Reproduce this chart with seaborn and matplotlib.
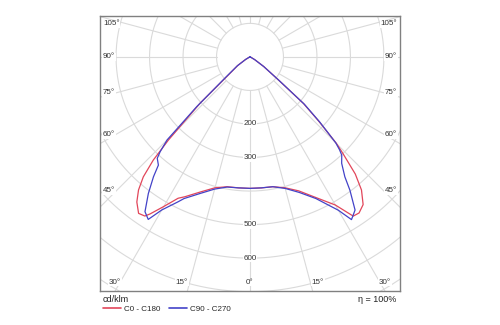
import numpy as np
import pandas as pd
import matplotlib
matplotlib.use("Agg")
import matplotlib.pyplot as plt
import seaborn as sns

# ---- data (cd/klm) ----
gamma_c0 = [0, 5, 10, 15, 20, 25, 30, 33, 35, 37.5, 40, 42, 44, 45, 47, 49, 51, 55, 60, 65, 70, 90]
int_c0 = [392, 392, 393, 404, 425, 462, 510, 566, 568, 555, 518, 470, 398, 365, 280, 211, 110, 50, 16, 3, 0, 0]

gamma_c180 = [0, 5, 10, 15, 20, 25, 27, 30, 32.5, 33.5, 35.5, 38, 40, 41.7, 43.2, 44.5, 47.2, 49.8, 55, 60, 65, 70, 90]
int_c180 = [392, 392, 393, 404, 428, 460, 473, 515, 555, 569, 573, 549, 518, 479, 422, 348, 203, 91, 45, 15, 3, 0, 0]

gamma_c90 = [0, 5, 10, 15, 20, 25, 30, 32, 34.5, 36.9, 38.4, 40.8, 43.1, 44, 45, 47, 49, 51, 55, 60, 65, 70, 90]
int_c90 = [392, 392, 393, 406, 430, 466, 528, 572, 554, 497, 456, 419, 401, 385, 362, 285, 215, 112, 50, 16, 3, 0, 0]

gamma_c270 = [0, 5, 10, 15, 20, 25, 26.4, 30, 32.1, 34.2, 36.7, 38.9, 40.3, 42.5, 43.5, 45, 47, 50, 55, 60, 65, 70, 90]
int_c270 = [392, 392, 394, 408, 433, 466, 482, 527, 572, 558, 508, 459, 423, 410, 390, 350, 218, 95, 46, 15, 3, 0, 0]

series_labels = ["C0 - C180", "C90 - C270"]
series_colors = ["#e2465a", "#4343c8"]
ring_values = [100, 200, 300, 400, 500, 600, 700, 800]
ring_labels = [200, 300, 500, 600]
angle_labels = ["105°", "90°", "75°", "60°", "45°", "30°", "15°", "0°"]
unit_label = "cd/klm"
eff_label = "η = 100%"


def curve(g_left, i_left, g_right, i_right):
    gl = np.radians(np.array(g_left, float))[::-1]
    il = np.array(i_left, float)[::-1]
    gr = np.radians(np.array(g_right, float))[1:]
    ir = np.array(i_right, float)[1:]
    x = np.concatenate([-il * np.sin(gl), ir * np.sin(gr)])
    y = np.concatenate([-il * np.cos(gl), -ir * np.cos(gr)])
    return pd.DataFrame({"x": x, "y": y})


df_a = curve(gamma_c180, int_c180, gamma_c0, int_c0)
df_b = curve(gamma_c270, int_c270, gamma_c90, int_c90)

sns.set_theme(style="white")
plt.rcParams["font.family"] = ["Liberation Sans", "DejaVu Sans"]

fig = plt.figure(figsize=(5, 3.25), dpi=100)
ax = fig.add_axes([0.2, 0.1046, 0.6, 0.8462])
ax.set_xlim(-448, 448)
ax.set_ylim(-698, 122)

grid_c = "#dadada"
t = np.linspace(0, 2 * np.pi, 400)
for r in ring_values:
    ax.plot(r * np.sin(t), r * np.cos(t), color=grid_c, lw=0.8, zorder=1)
for a in range(0, 360, 15):
    ar = np.radians(a)
    ax.plot([100 * np.sin(ar), 1500 * np.sin(ar)], [-100 * np.cos(ar), -1500 * np.cos(ar)],
            color=grid_c, lw=0.8, zorder=1)

sns.lineplot(data=df_a, x="x", y="y", sort=False, estimator=None, color=series_colors[0],
             lw=0.9, label=series_labels[0], ax=ax, zorder=3)
sns.lineplot(data=df_b, x="x", y="y", sort=False, estimator=None, color=series_colors[1],
             lw=0.9, label=series_labels[1], ax=ax, zorder=4)

box = dict(facecolor="white", edgecolor="none", pad=0.6)
fs = 5.8
for r in ring_labels:
    ax.text(0, -r, str(r), ha="center", va="center", fontsize=fs, color="#333333",
            bbox=box, zorder=2)

# angle labels, pixel positions (x px, y px) of the reference
left_pos = [(103, 24), (103, 57), (103, 93), (103, 135), (103, 191)]
bottom_pos = [(115, 282), (182, 282), (250, 282)]


def to_axes(px, py):
    return (px - 100) / 300.0, (291 - py) / 275.0


for lab, (px, py) in zip(angle_labels[:5], left_pos):
    fx, fy = to_axes(px, py)
    ax.text(fx, fy, lab, transform=ax.transAxes, ha="left", va="center", fontsize=fs,
            color="#333333", bbox=box, zorder=2)
    fx2, _ = to_axes(500 - px, py)
    ax.text(fx2, fy, lab, transform=ax.transAxes, ha="right", va="center", fontsize=fs,
            color="#333333", bbox=box, zorder=2)
for lab, (px, py) in zip(angle_labels[5:], bottom_pos):
    fx, fy = to_axes(px, py)
    ax.text(fx, fy, lab, transform=ax.transAxes, ha="center", va="center", fontsize=fs,
            color="#333333", bbox=box, zorder=2)
    if lab != "0°":
        fx2, _ = to_axes(500 - px, py)
        ax.text(fx2, fy, lab, transform=ax.transAxes, ha="center", va="center", fontsize=fs,
                color="#333333", bbox=box, zorder=2)

ax.set_xticks([])
ax.set_yticks([])
ax.set_xlabel("")
ax.set_ylabel("")
for s in ax.spines.values():
    s.set_color("#808080")
    s.set_linewidth(1.0)

fig.text(103 / 500, 1 - 299 / 325, unit_label, ha="left", va="center", fontsize=6.5, color="#222222")
fig.text(396 / 500, 1 - 299 / 325, eff_label, ha="right", va="center", fontsize=6.5, color="#222222")

handles, labels = ax.get_legend_handles_labels()
leg = ax.legend(handles, labels, loc="center left", bbox_to_anchor=(103 / 500, 1 - 309 / 325),
                bbox_transform=fig.transFigure, ncol=2, frameon=False, fontsize=5.8,
                handlelength=2.2, handletextpad=0.45, columnspacing=1.0, borderpad=0,
                borderaxespad=0)
for h in leg.get_lines():
    h.set_linewidth(1.2)

fig.savefig("out.png", dpi=100)
